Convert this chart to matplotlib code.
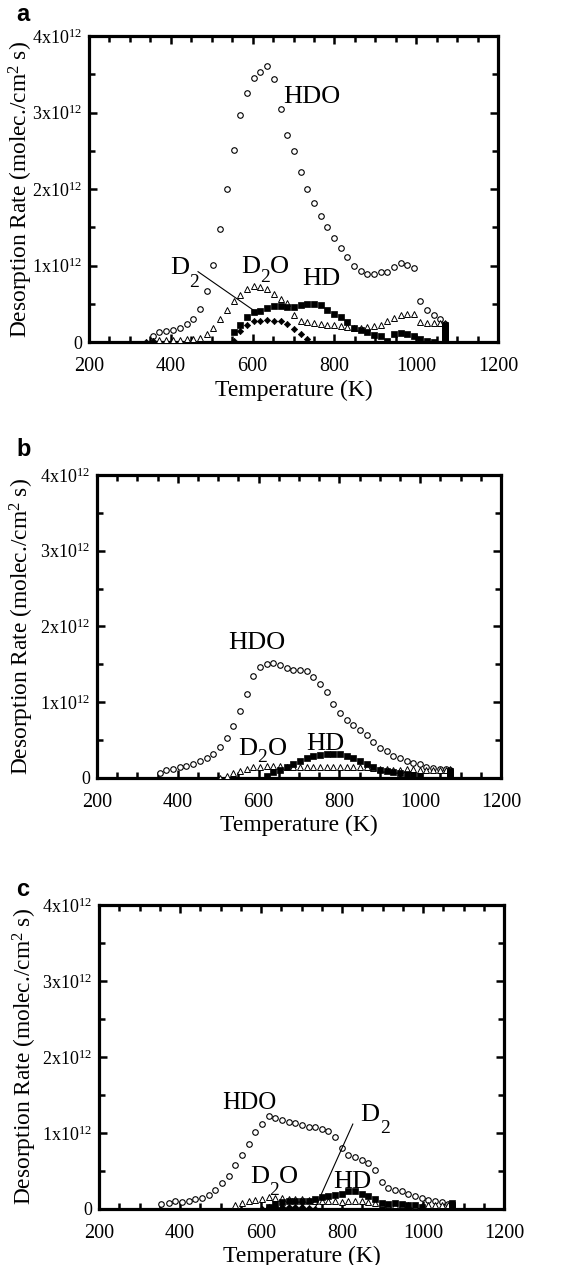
import numpy as np
import matplotlib
matplotlib.use("Agg")
import matplotlib.pyplot as plt
from matplotlib.ticker import MultipleLocator

plt.rcParams['font.family'] = ['Liberation Serif', 'DejaVu Serif']
plt.rcParams['mathtext.fontset'] = 'custom'
plt.rcParams['mathtext.rm'] = 'Liberation Serif'
plt.rcParams['mathtext.it'] = 'Liberation Serif:italic'

SCALE = 1e12  # values below are in units of 10^12 molec./cm^2 s

# ---- panel a ----
HDO_A_T = [355.7, 372.0, 388.3, 404.6, 422.5, 438.8, 455.0, 471.4, 487.7, 504.0,
           520.3, 536.6, 553.7, 569.2, 586.3, 602.6, 618.9, 635.2, 652.3, 668.6,
           684.9, 701.2, 717.5, 733.8, 750.1, 766.4, 782.7, 799.0, 815.3, 831.6,
           847.9, 864.2, 880.5, 896.8, 913.1, 929.4, 945.7, 962.0, 978.3, 994.6,
           1010.0, 1026.4, 1042.7, 1059.0, 1071.0]
HDO_A = [0.083, 0.126, 0.144, 0.157, 0.187, 0.239, 0.300, 0.431, 0.662, 1.001,
         1.484, 2.007, 2.511, 2.968, 3.260, 3.456, 3.526, 3.608, 3.443, 3.042,
         2.707, 2.503, 2.228, 1.998, 1.819, 1.650, 1.510, 1.362, 1.232, 1.106,
         0.992, 0.923, 0.884, 0.884, 0.910, 0.918, 0.984, 1.036, 1.001, 0.962,
         0.540, 0.413, 0.353, 0.300, 0.239]
D2O_A_T = [372.0, 388.3, 404.6, 422.5, 438.8, 455.0, 471.4, 487.7, 504.0, 520.3,
           536.6, 553.7, 569.2, 586.3, 602.6, 618.9, 635.2, 652.3, 668.6, 684.9,
           701.2, 717.5, 733.8, 750.1, 766.4, 782.7, 799.0, 815.3, 831.6, 847.9,
           864.2, 880.5, 896.8, 913.1, 929.4, 945.7, 962.0, 978.3, 994.6, 1010.0,
           1026.4, 1042.7, 1059.0, 1071.0]
D2O_A = [0.03, 0.03, 0.03, 0.03, 0.035, 0.04, 0.057, 0.10, 0.18, 0.30,
         0.42, 0.54, 0.62, 0.70, 0.735, 0.72, 0.70, 0.63, 0.56, 0.51,
         0.36, 0.28, 0.26, 0.25, 0.235, 0.225, 0.22, 0.205, 0.195, 0.18,
         0.18, 0.195, 0.205, 0.225, 0.27, 0.31, 0.355, 0.365, 0.37, 0.26,
         0.25, 0.25, 0.25, 0.25]
HD_A_T = [553.7, 569.2, 586.3, 602.6, 618.9, 635.2, 652.3, 668.6, 684.9, 701.2,
          717.5, 733.8, 750.1, 766.4, 782.7, 799.0, 815.3, 831.6, 847.9, 864.2,
          880.5, 896.8, 913.1, 929.4, 945.7, 962.0, 978.3, 994.6, 1010.0, 1026.4,
          1042.7, 1071.0, 1071.0, 1071.0, 1071.0, 1071.0, 1071.0, 1071.0, 1071.0]
HD_A = [0.135, 0.226, 0.326, 0.387, 0.409, 0.444, 0.466, 0.466, 0.457, 0.457,
        0.48, 0.50, 0.50, 0.48, 0.425, 0.37, 0.33, 0.26, 0.19, 0.16,
        0.13, 0.09, 0.075, 0.02, 0.11, 0.12, 0.10, 0.075, 0.045, 0.01,
        0.0, 0.22, 0.19, 0.16, 0.13, 0.10, 0.07, 0.04, 0.01]
D2_A_T = [338.5, 355.7, 553.7, 569.2, 586.3, 602.6, 618.9, 635.2, 652.3, 668.6,
          684.9, 701.2, 717.5, 733.8, 1071.0]
D2_A = [0.0, 0.02, 0.02, 0.15, 0.22, 0.27, 0.28, 0.29, 0.28, 0.27,
        0.24, 0.17, 0.10, 0.04, 0.0]

# ---- panel b ----
HDO_B_T = [354.9, 371.3, 387.8, 404.3, 420.8, 437.2, 455.4, 471.8, 488.3, 504.8,
           521.3, 537.7, 554.2, 570.7, 587.1, 603.6, 620.1, 636.6, 653.0, 669.5,
           686.0, 702.5, 718.9, 735.4, 751.9, 768.4, 784.8, 801.3, 817.8, 834.3,
           850.7, 867.2, 883.7, 900.2, 916.6, 933.1, 949.6, 966.1, 982.5, 999.0,
           1015.5, 1032.0, 1048.4, 1064.9, 1074.8]
HDO_B = [0.066, 0.11, 0.12, 0.14, 0.16, 0.18, 0.22, 0.26, 0.32, 0.41,
         0.53, 0.69, 0.89, 1.11, 1.34, 1.46, 1.50, 1.52, 1.49, 1.45,
         1.43, 1.42, 1.41, 1.33, 1.24, 1.13, 0.98, 0.86, 0.76, 0.70,
         0.64, 0.57, 0.48, 0.40, 0.35, 0.29, 0.26, 0.23, 0.20, 0.18,
         0.15, 0.13, 0.12, 0.12, 0.11]
D2O_B_T = [504.8, 521.3, 537.7, 554.2, 570.7, 587.1, 603.6, 620.1, 636.6, 653.0,
           669.5, 686.0, 702.5, 718.9, 735.4, 751.9, 768.4, 784.8, 801.3, 817.8,
           834.3, 850.7, 867.2, 883.7, 900.2, 916.6, 933.1, 949.6, 966.1, 982.5,
           999.0, 1015.5, 1032.0, 1048.4, 1064.9, 1074.8]
D2O_B = [0.0, 0.03, 0.06, 0.09, 0.12, 0.14, 0.15, 0.16, 0.155, 0.155,
         0.145, 0.14, 0.14, 0.14, 0.14, 0.14, 0.14, 0.14, 0.14, 0.14,
         0.14, 0.14, 0.14, 0.13, 0.12, 0.12, 0.11, 0.11, 0.12, 0.12,
         0.11, 0.11, 0.11, 0.11, 0.11, 0.12]
HD_B_T = [620.1, 636.6, 653.0, 669.5, 686.0, 702.5, 718.9, 735.4, 751.9, 768.4,
          784.8, 801.3, 817.8, 834.3, 850.7, 867.2, 883.7, 900.2, 916.6, 933.1,
          949.6, 966.1, 982.5, 999.0, 1074.8, 1074.8, 1074.8, 1074.8]
HD_B = [0.03, 0.075, 0.11, 0.145, 0.185, 0.23, 0.26, 0.29, 0.305, 0.31,
        0.31, 0.31, 0.295, 0.26, 0.23, 0.19, 0.145, 0.11, 0.095, 0.08,
        0.065, 0.055, 0.045, 0.02, 0.09, 0.06, 0.03, 0.0]

# ---- panel c ----
HDO_C_T = [353.8, 371.9, 388.3, 404.8, 421.2, 437.7, 454.1, 470.6, 487.0, 503.5,
           519.9, 536.3, 552.8, 569.2, 585.7, 602.1, 618.6, 635.0, 651.5, 667.9,
           684.4, 700.8, 717.3, 733.7, 750.2, 766.6, 783.1, 799.5, 815.9, 832.4,
           848.8, 865.3, 881.7, 898.2, 914.6, 931.1, 947.5, 964.0, 980.4, 996.9,
           1013.3, 1029.8, 1046.2, 1062.7, 1070.9]
HDO_C = [0.07, 0.08, 0.10, 0.09, 0.11, 0.13, 0.15, 0.19, 0.25, 0.34,
         0.43, 0.58, 0.71, 0.86, 1.01, 1.12, 1.22, 1.20, 1.17, 1.15,
         1.13, 1.10, 1.08, 1.08, 1.056, 1.02, 0.95, 0.80, 0.71, 0.68,
         0.64, 0.60, 0.51, 0.36, 0.28, 0.25, 0.23, 0.20, 0.17, 0.145,
         0.12, 0.11, 0.088, 0.066, 0.057]
D2O_C_T = [536.3, 552.8, 569.2, 585.7, 602.1, 618.6, 635.0, 651.5, 667.9, 684.4,
           700.8, 717.3, 733.7, 750.2, 766.6, 783.1, 799.5, 815.9, 832.4, 848.8,
           865.3, 881.7, 898.2, 914.6, 931.1, 947.5, 964.0, 980.4, 996.9, 1013.3,
           1029.8, 1046.2, 1062.7]
D2O_C = [0.057, 0.08, 0.11, 0.12, 0.135, 0.16, 0.145, 0.145, 0.13, 0.13,
         0.13, 0.12, 0.11, 0.10, 0.10, 0.10, 0.09, 0.10, 0.10, 0.10,
         0.09, 0.08, 0.066, 0.057, 0.048, 0.048, 0.048, 0.035, 0.035, 0.048,
         0.048, 0.048, 0.057]
HD_C_T = [618.6, 635.0, 651.5, 667.9, 684.4, 700.8, 717.3, 733.7, 750.2, 766.6,
          783.1, 799.5, 815.9, 832.4, 848.8, 865.3, 881.7, 898.2, 914.6, 931.1,
          947.5, 964.0, 980.4, 996.9, 1070.9, 1070.9, 1070.9]
HD_C = [0.02, 0.066, 0.09, 0.10, 0.10, 0.10, 0.11, 0.136, 0.153, 0.166,
        0.18, 0.197, 0.23, 0.23, 0.197, 0.166, 0.136, 0.08, 0.066, 0.08,
        0.066, 0.048, 0.048, 0.02, 0.08, 0.05, 0.02]
D2_C_T = [602.1, 618.6, 635.0, 651.5, 667.9, 684.4, 700.8, 717.3, 733.7]
D2_C = [0.0, 0.02, 0.03, 0.03, 0.03, 0.02, 0.02, 0.01, 0.0]

YTICKS = [0, 1, 2, 3, 4]
YTICK_LABELS = ['0', r'1x10$^{12}$', r'2x10$^{12}$', r'3x10$^{12}$', r'4x10$^{12}$']
XTICKS = [200, 400, 600, 800, 1000, 1200]

STYLE = {
    'HDO': dict(marker='o', mfc='white', mec='black', ms=4.0, mew=0.8),
    'D2O': dict(marker='^', mfc='white', mec='black', ms=4.0, mew=0.7),
    'HD': dict(marker='s', mfc='black', mec='black', ms=4.4, mew=0.5),
    'D2': dict(marker='D', mfc='black', mec='black', ms=3.2, mew=0.5),
}

fig = plt.figure(figsize=(5.62, 12.65), dpi=100)


def make_panel(rect, series, ylab_x):
    ax = fig.add_axes(rect)
    for name, t, v in series:
        ax.plot(t, np.array(v) * SCALE, linestyle='none', zorder=3, **STYLE[name])
    ax.set_xlim(200, 1200)
    ax.set_ylim(0, 4 * SCALE)
    ax.set_xticks(XTICKS)
    ax.set_yticks([y * SCALE for y in YTICKS], labels=YTICK_LABELS)
    ax.xaxis.set_minor_locator(MultipleLocator(50))
    ax.yaxis.set_minor_locator(MultipleLocator(0.5 * SCALE))
    ax.tick_params(which='both', direction='in', top=True, right=True, width=1.8)
    ax.tick_params(which='major', length=6)
    ax.tick_params(which='minor', length=4)
    ax.tick_params(axis='x', labelsize=14.5, pad=11)
    ax.tick_params(axis='y', labelsize=13, pad=5)
    for s in ax.spines.values():
        s.set_linewidth(2.3)
    ax.set_xlabel('Temperature (K)', fontsize=17)
    ax.set_ylabel('Desorption Rate (molec./cm$^2$ s)', fontsize=16.8)
    ax.xaxis.set_label_coords(0.5, -0.122)
    ax.yaxis.set_label_coords(ylab_x, 0.5)
    return ax


def txt(ax, t, r, s, size=19):
    ax.text(t, r * SCALE, s, fontsize=size, ha='left', va='baseline', zorder=4)


# panel a
ax = make_panel([0.1584, 0.7296, 0.7278, 0.2419],
                [('HDO', HDO_A_T, HDO_A), ('D2O', D2O_A_T, D2O_A),
                 ('HD', HD_A_T, HD_A), ('D2', D2_A_T, D2_A)], -0.132)
txt(ax, 674, 3.12, 'HDO')
txt(ax, 721, 0.745, 'HD')
txt(ax, 398, 0.889, 'D')
txt(ax, 445, 0.72, '2', 14)
ax.plot([466.5, 601], [0.92 * SCALE, 0.42 * SCALE], color='black', lw=0.8, zorder=4)
txt(ax, 571.6, 0.90, 'D')
txt(ax, 618, 0.78, '2', 14)
txt(ax, 642, 0.90, 'O')

# panel b
ax = make_panel([0.1726, 0.3850, 0.7189, 0.2395],
                [('HDO', HDO_B_T, HDO_B), ('D2O', D2O_B_T, D2O_B),
                 ('HD', HD_B_T, HD_B)], -0.150)
txt(ax, 524.5, 1.70, 'HDO')
txt(ax, 718, 0.37, 'HD')
txt(ax, 549, 0.30, 'D')
txt(ax, 597, 0.215, '2', 14)
txt(ax, 622, 0.30, 'O')

# panel c
ax = make_panel([0.1762, 0.0443, 0.7206, 0.2403],
                [('HDO', HDO_C_T, HDO_C), ('D2O', D2O_C_T, D2O_C),
                 ('HD', HD_C_T, HD_C), ('D2', D2_C_T, D2_C)], -0.149)
txt(ax, 503.5, 1.32, 'HDO', 18)
txt(ax, 778.8, 0.28, 'HD')
txt(ax, 844.7, 1.16, 'D')
txt(ax, 894, 1.0, '2', 14)
ax.plot([826.7, 733.7], [1.117 * SCALE, 0.013 * SCALE], color='black', lw=0.8, zorder=4)
txt(ax, 573, 0.345, 'D')
txt(ax, 620, 0.19, '2', 14)
txt(ax, 644, 0.345, 'O')

# panel letters
for letter, ytop in [('a', 3), ('b', 438), ('c', 878)]:
    fig.text(16 / 562, 1 - ytop / 1265, letter, fontsize=17, fontweight='bold',
             fontfamily='Liberation Sans', ha='left', va='top')

fig.savefig('out.png', dpi=100)
